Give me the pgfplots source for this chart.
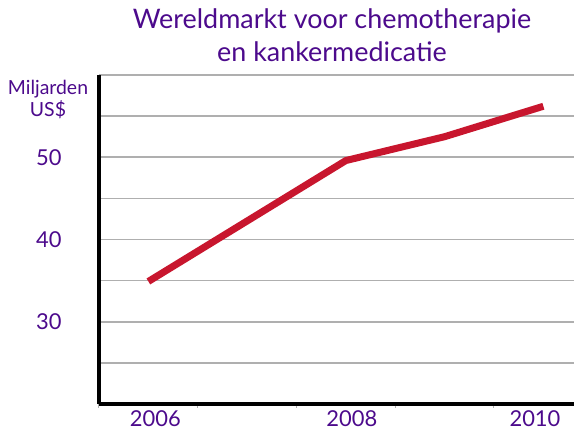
\documentclass[border=0pt]{standalone}
\usepackage{pgfplots}
\pgfplotsset{compat=1.18}
\usepackage{fontspec}
\setmainfont{Lato}
\definecolor{ttl}{RGB}{76,10,140}
\definecolor{lred}{RGB}{200,22,46}
\definecolor{grd}{RGB}{175,175,175}
\begin{document}
\begin{tikzpicture}
\path[use as bounding box] (-99bp,-31bp) rectangle (475bp,404bp);
\begin{axis}[
  at={(0,0)}, anchor=south west,
  scale only axis, width=475bp, height=329bp,
  xmin=2005.5, xmax=2010.31, ymin=20, ymax=60,
  axis x line=bottom, axis y line=left,
  axis line style={black, line width=3.5bp, -},
  ytick={25,30,...,60},
  yticklabels={,30,,40,,50,,},
  ymajorgrids, major grid style={grd, line width=1.7bp},
  y tick style={draw=none},
  yticklabel style={font=\fontsize{22}{24}\selectfont, text=ttl, xshift=-30bp},
  xtick={2005.5,2006.5,...,2010.5},
  xticklabels={},
  x tick style={grd, line width=1bp},
  major tick length=4bp, tick align=outside,
  extra x ticks={2006.07,2008.06,2009.915},
  extra x tick labels={2006,2008,2010},
  extra x tick style={major tick length=0pt, tick style={draw=none},
     xticklabel style={font=\fontsize{22}{24}\selectfont, text=ttl, anchor=north, yshift=-3bp}},
  clip=false,
]
\addplot[lred, line width=7bp, line join=round] coordinates {
  (2006,34.9) (2008,49.6) (2009,52.5) (2010,56.2)
};
\end{axis}
\node[anchor=base, text=ttl, font=\fontsize{27}{29}\selectfont] at (233bp,375bp) {Wereldmarkt voor chemotherapie};
\node[anchor=base, text=ttl, font=\fontsize{27}{29}\selectfont] at (233bp,342bp) {en kankermedicatie};
\node[anchor=base, text=ttl, font=\fontsize{19.5}{21}\selectfont] at (-51bp,309bp) {Miljarden};
\node[anchor=base, text=ttl, font=\fontsize{19.5}{21}\selectfont] at (-51bp,287bp) {US\$};
\end{tikzpicture}
\end{document}
